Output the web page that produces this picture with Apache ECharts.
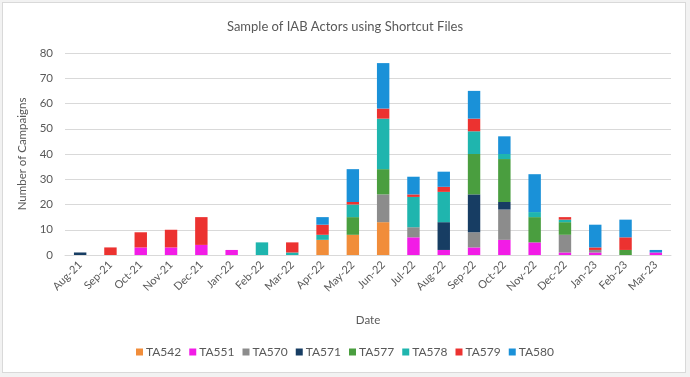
<!DOCTYPE html>
<html><head><meta charset="utf-8">
<script src="https://cdn.jsdelivr.net/npm/echarts@6/dist/echarts.min.js"></script>
<style>
html,body{margin:0;padding:0;background:#f2f2f2;}
#frame{position:absolute;left:2px;top:2px;width:684px;height:371px;background:#fff;border:1px solid #d9d9d9;box-sizing:border-box;}
#c{position:absolute;left:0;top:0;width:690px;height:377px;}
</style></head>
<body>
<div id="frame"></div>
<div id="c"></div>
<script>
var categories = ['Aug-21','Sep-21','Oct-21','Nov-21','Dec-21','Jan-22','Feb-22','Mar-22','Apr-22','May-22','Jun-22','Jul-22','Aug-22','Sep-22','Oct-22','Nov-22','Dec-22','Jan-23','Feb-23','Mar-23'];
var TA542 = [0,0,0,0,0,0,0,0,6,8,13,0,0,0,0,0,0,0,0,0];
var TA551 = [0,0,3,3,4,2,0,0,0,0,0,7,2,3,6,5,1,1,0,1];
var TA570 = [0,0,0,0,0,0,0,0,0,0,11,4,0,6,12,0,7,1,0,0];
var TA571 = [1,0,0,0,0,0,0,0,0,0,0,0,11,15,3,0,0,0,0,0];
var TA577 = [0,0,0,0,0,0,0,0,0,7,10,0,0,16,17,10,5,0,2,0];
var TA578 = [0,0,0,0,0,0,5,1,2,5,20,12,12,9,2,2,1,0,0,0];
var TA579 = [0,3,6,7,11,0,0,4,4,1,4,1,2,5,0,0,1,1,5,0];
var TA580 = [0,0,0,0,0,0,0,0,3,13,18,7,6,11,7,15,0,9,7,1];
var yTicks = [0,10,20,30,40,50,60,70,80];

var seriesNames = ['TA542','TA551','TA570','TA571','TA577','TA578','TA579','TA580'];
var seriesData = [TA542,TA551,TA570,TA571,TA577,TA578,TA579,TA580];
var colors = ['#F18D3A','#F21CE6','#8C8C8C','#173D63','#4A9E3F','#1FB5AE','#EC3230','#1A91D8'];

var chart = echarts.init(document.getElementById('c'), null, {renderer:'canvas'});
var font = 'Lato, "Open Sans", sans-serif';
chart.setOption({
  backgroundColor: 'transparent',
  animation: false,
  title: {text:'Sample of IAB Actors using Shortcut Files', left:'center', top:15,
    textStyle:{fontFamily:font, fontSize:13, fontWeight:'normal', color:'#595959'}},
  legend: {bottom:14, left:'center', itemWidth:7, itemHeight:7, itemGap:8, icon:'rect',
    textStyle:{fontFamily:font, fontSize:12, color:'#595959', padding:[0,0,0,-2]}, data: seriesNames},
  grid: {left:65, right:19, top:53, bottom:122},
  xAxis: {type:'category', data:categories, name:'Date', nameLocation:'middle', nameGap:59,
    nameTextStyle:{fontFamily:font, fontSize:11.5, color:'#595959'},
    axisLine:{lineStyle:{color:'#d9d9d9'}}, axisTick:{show:false},
    axisLabel:{rotate:45, interval:0, fontFamily:font, fontSize:11, color:'#595959', margin:8}},
  yAxis: {type:'value', min:0, max:80, interval:10, name:'Number of Campaigns', nameLocation:'middle', nameGap:37,
    nameTextStyle:{fontFamily:font, fontSize:11.5, color:'#595959'},
    axisLine:{show:false}, axisTick:{show:false},
    axisLabel:{fontFamily:font, fontSize:11.5, color:'#595959', margin:12,
      formatter:function(v){return yTicks.indexOf(v)>=0 ? String(v) : '';}},
    splitLine:{lineStyle:{color:'#d9d9d9'}}},
  series: seriesNames.map(function(n,i){
    return {name:n, type:'bar', stack:'all', data:seriesData[i], barWidth:'41%',
      itemStyle:{color:colors[i]}};
  })
});
</script>
</body></html>
